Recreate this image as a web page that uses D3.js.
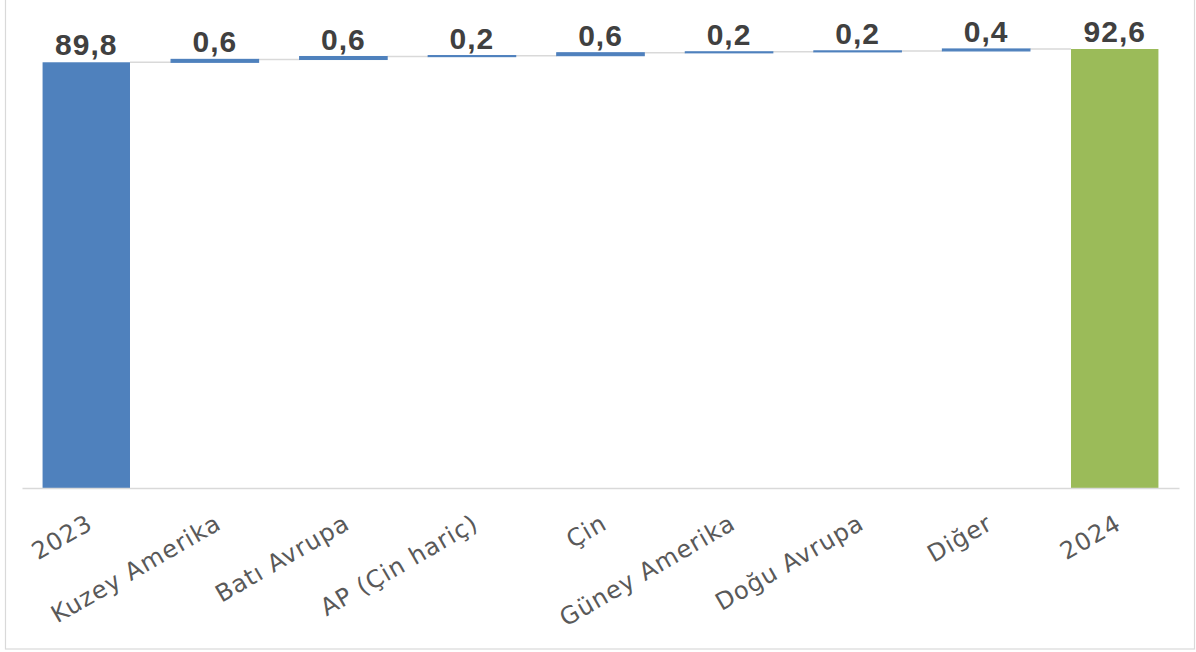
<!DOCTYPE html>
<html>
<head>
<meta charset="utf-8">
<script src="https://cdn.jsdelivr.net/npm/d3@7"></script>
<style>
  html, body { margin: 0; padding: 0; background: #ffffff; }
  svg { display: block; }
</style>
</head>
<body>
<svg id="chart" width="1196" height="652"></svg>
<script>
const categories = ["2023", "Kuzey Amerika", "Batı Avrupa", "AP (Çin hariç)", "Çin", "Güney Amerika", "Doğu Avrupa", "Diğer", "2024"];
const values = [89.8, 0.6, 0.6, 0.2, 0.6, 0.2, 0.2, 0.4, 92.6];
const kinds = ["total", "delta", "delta", "delta", "delta", "delta", "delta", "delta", "total"];

const W = 1196, H = 652;
const svg = d3.select("#chart");

const trLocale = d3.formatLocale({ decimal: ",", thousands: ".", grouping: [3], currency: ["", " ₺"] });
const fmt = trLocale.format(".1f");

// build waterfall table
let running = 0;
const rows = categories.map((c, i) => {
  let start, end;
  if (kinds[i] === "total") { start = 0; end = values[i]; running = values[i]; }
  else { start = running; end = running + values[i]; running = end; }
  return { cat: c, value: values[i], kind: kinds[i], start, end, idx: i };
});

const baseY = 488;
const x = d3.scaleBand().domain(categories).range([22, 1179]).paddingInner(0.32).paddingOuter(0.16);
const y = d3.scaleLinear().domain([0, 92.6]).range([baseY, 49]);

// outer border
svg.append("rect")
  .attr("x", 5.5).attr("y", -2).attr("width", 1189).attr("height", 651)
  .attr("fill", "none").attr("stroke", "#d9d9d9").attr("stroke-width", 1.2);

// connectors
const conn = svg.append("g");
rows.slice(0, -1).forEach((r, i) => {
  const next = rows[i + 1];
  const lvl = r.kind === "total" ? r.end : r.end;
  conn.append("line")
    .attr("x1", x(r.cat) + x.bandwidth()).attr("x2", x(next.cat))
    .attr("y1", y(lvl)).attr("y2", y(lvl))
    .attr("stroke", "#d9d9d9").attr("stroke-width", 1.5);
});

// bars
svg.append("g").selectAll("rect").data(rows).join("rect")
  .attr("x", d => x(d.cat))
  .attr("width", x.bandwidth())
  .attr("y", d => y(d.end))
  .attr("height", d => y(d.start) - y(d.end))
  .attr("fill", d => d.kind === "total" && d.idx > 0 ? "#9bbb59" : "#4f81bd")
  .attr("stroke", d => d.kind === "delta" ? "#4f81bd" : "none")
  .attr("stroke-width", 1.2);

// x axis line
const xAxis = d3.axisBottom(x).tickSize(0).tickPadding(0);
const gx = svg.append("g").attr("transform", `translate(0,${baseY})`).call(xAxis);
gx.select(".domain").attr("stroke", "#d9d9d9").attr("stroke-width", 1.5);
gx.selectAll(".tick text")
  .attr("font-family", "'DejaVu Sans', sans-serif")
  .attr("font-size", 24)
  .attr("letter-spacing", 1)
  .attr("fill", "#595959")
  .attr("text-anchor", "end")
  .attr("dy", 0)
  .attr("y", 0)
  .attr("transform", "translate(8,40) rotate(-30)");

// value labels
svg.append("g").selectAll("text").data(rows).join("text")
  .attr("x", d => x(d.cat) + x.bandwidth() / 2)
  .attr("y", d => y(d.end) - 7)
  .attr("text-anchor", "middle")
  .attr("font-family", "'Liberation Sans', Arial, sans-serif")
  .attr("font-weight", "bold")
  .attr("font-size", 30)
  .attr("letter-spacing", 1)
  .attr("fill", "#404040")
  .text(d => fmt(d.value));
</script>
</body>
</html>
